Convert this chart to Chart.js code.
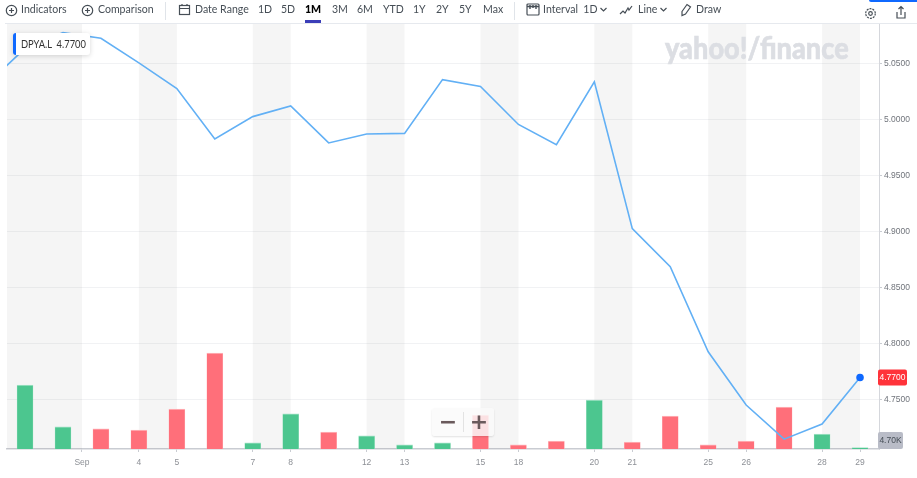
<!DOCTYPE html>
<html>
<head>
<meta charset="utf-8">
<title>DPYA.L</title>
<script src="https://cdn.jsdelivr.net/npm/chart.js@4/dist/chart.umd.min.js"></script>
<style>
html, body { margin: 0; padding: 0; background: #fff; overflow: hidden; }
#wrap { position: relative; width: 917px; height: 478px; filter: blur(0.4px); font-family: Lato, "Noto Sans", sans-serif; color: #464e56; }
canvas { position: absolute; left: 0; top: 0; }
.t { position: absolute; top: 1px; font-size: 12px; line-height: 16px; white-space: nowrap; transform: scaleX(0.88); transform-origin: left center; }
.t.on { font-weight: 900; color: #000; }
.sep { position: absolute; top: 2px; width: 1px; height: 18px; background: #e0e4e9; }
svg.i { position: absolute; fill: none; stroke: #464e56; stroke-width: 1.2; }
#topline { position: absolute; left: 5px; right: 0; top: 23px; height: 1px; background: #e6e9ee; }
#under { position: absolute; left: 305px; top: 20px; width: 16px; height: 3px; background: #3b3eb8; }
#bluecap { position: absolute; left: 869px; top: 0; width: 48px; height: 2px; background: #0f69ff; border-radius: 0 0 0 4px; }
#logo { position: absolute; left: 665px; top: 27px; font-size: 30px; line-height: 40px; font-weight: 900; color: #dcdee3; -webkit-text-stroke: 0.6px #dcdee3; white-space: nowrap; transform: scaleX(0.905); transform-origin: left center; }
#tip { position: absolute; left: 13px; top: 33px; width: 77px; height: 22px; background: #fff; border-left: 3px solid #0f69ff; border-radius: 3px; box-shadow: 0 1px 5px rgba(0,0,0,.16); box-sizing: border-box; padding-left: 5px; font-size: 10.5px; line-height: 22px; white-space: pre; color: #333; }
#tip span { display: inline-block; transform: scaleX(0.89); transform-origin: left center; }
#zoom { position: absolute; left: 432px; top: 408px; width: 62px; height: 28px; background: rgba(250,250,250,.82); border-radius: 3px; box-shadow: 0 1px 2px rgba(0,0,0,.12); }
#zoom b { position: absolute; top: 0; width: 30px; text-align: center; font: bold 22px/27px "DejaVu Sans", sans-serif; color: #6a5a5c; }
#zoom i { position: absolute; left: 31px; top: 4px; width: 1px; height: 20px; background: #e3e3e3; }
</style>
</head>
<body>
<div id="wrap">
<canvas id="chart" width="917" height="478"></canvas>

<div id="logo">yahoo!/finance</div>
<div id="tip"><span>DPYA.L  4.7700</span></div>
<div id="zoom"><b style="left:1px">&minus;</b><i></i><b style="left:32px">+</b></div>

<div id="bluecap"></div>
<div id="topline"></div>
<div id="under"></div>
<svg class="i" style="left:5px;top:4px" width="13" height="13"><circle cx="6.5" cy="6.5" r="5.2"/><path d="M6.5 4v5M4 6.5h5"/></svg>
<span class="t" style="left:21px">Indicators</span>
<svg class="i" style="left:81px;top:4px" width="13" height="13"><circle cx="6.5" cy="6.5" r="5.2"/><path d="M6.5 4v5M4 6.5h5"/></svg>
<span class="t" style="left:98px">Comparison</span>
<div class="sep" style="left:165px"></div>
<svg class="i" style="left:178px;top:3px" width="13" height="13"><rect x="1.5" y="2.5" width="10" height="9"/><path d="M1.5 5.5h10M4 1v2M9 1v2"/></svg>
<span class="t" style="left:195px">Date Range</span>
<span class="t" style="left:258px">1D</span>
<span class="t" style="left:281px">5D</span>
<span class="t on" style="left:305px">1M</span>
<span class="t" style="left:332px">3M</span>
<span class="t" style="left:357px">6M</span>
<span class="t" style="left:383px">YTD</span>
<span class="t" style="left:413px">1Y</span>
<span class="t" style="left:436px">2Y</span>
<span class="t" style="left:459px">5Y</span>
<span class="t" style="left:483px">Max</span>
<div class="sep" style="left:514px"></div>
<svg class="i" style="left:526px;top:2px" width="14" height="15"><rect x="1" y="2" width="12" height="11" rx="1"/><path d="M1 4.5h12M4 3v4M7 3v3M10 3v4" stroke-width="1.4"/></svg>
<span class="t" style="left:543px">Interval&nbsp; 1D</span>
<svg class="i" style="left:599px;top:6px" width="9" height="7"><path d="M1.5 2l3 3 3-3"/></svg>
<svg class="i" style="left:619px;top:4px" width="14" height="12"><path d="M1 10l3-3 2 2 3-5 1 2 3-4"/></svg>
<span class="t" style="left:638px">Line</span>
<svg class="i" style="left:659px;top:6px" width="9" height="7"><path d="M1.5 2l3 3 3-3"/></svg>
<svg class="i" style="left:680px;top:3px" width="13" height="14"><path d="M2 8.5l5-7 3.5 2.5-5 7-3.5 1.5z"/></svg>
<span class="t" style="left:696px">Draw</span>
<svg class="i" style="left:864px;top:7px" width="13" height="13"><circle cx="6.5" cy="6.5" r="1.8"/><circle cx="6.5" cy="6.5" r="4.8" stroke-dasharray="2 1"/></svg>
<svg class="i" style="left:895px;top:5px" width="12" height="15"><path d="M2 7v6h8V7M6 10V1.5M3.5 4L6 1.5 8.5 4"/></svg>
</div>

<script>
// slot -1 sits just off the left edge
var priceSlots = [-1,0,1,2,3,4,5,6,7,8,9,10,11,12,13,14,15,16,17,18,19,20,21,22];
var prices = [5.032,5.064,5.078,5.073,5.051,5.028,4.983,5.003,5.0125,4.9795,4.9875,4.988,5.036,5.030,4.996,4.978,5.034,4.903,4.869,4.793,4.7455,4.715,4.7285,4.77];

var volumeSlots = [0,1,2,3,4,5,6,7,8,9,10,11,12,13,14,15,16,17,18,19,20,21,22];
var volumes = [200,69,63,59,125,300,19,110,53,41,13,19,106,13,25,153,22,103,13,25,131,47,4.7];
var volumeUp = [1,1,0,0,0,0,1,1,0,1,1,1,0,0,0,1,0,0,0,0,0,1,1];

var tickSlots = [1.5,3,4,6,7,9,10,12,13,15,16,18,19,21,22];
var tickLabels = ['Sep','4','5','7','8','12','13','15','18','20','21','25','26','28','29'];
var priceTicks = [4.75,4.8,4.85,4.9,4.95,5,5.05];
var weekendBands = [[-0.48,1.5],[3,4],[6,7],[9,10],[12,13],[15,16],[18,19],[21,22]];

var lastPrice = '4.7700';
var lastVolume = '4.70K';

function toPoints(xs, ys) {
    return xs.map(function(x, i) { return {x: x, y: ys[i]}; });
}

function tag(ctx, x, y, w, h, fill, text, color) {
    ctx.fillStyle = fill;
    ctx.beginPath();
    ctx.roundRect(x, y, w, h, 2);
    ctx.fill();
    ctx.fillStyle = color;
    ctx.font = '8.5px "Liberation Sans", sans-serif';
    ctx.textAlign = 'center';
    ctx.textBaseline = 'middle';
    ctx.fillText(text, x + w / 2, y + h / 2 + 0.5);
}

//gray bands behind everything
var bandsPlugin = {
    id: 'bands',
    beforeDatasetsDraw: function(chart) {
        var a = chart.chartArea, sx = chart.scales.x, ctx = chart.ctx;
        ctx.save();
        ctx.fillStyle = 'rgba(120,120,120,0.075)';
        weekendBands.forEach(function(b) {
            var x0 = Math.max(sx.getPixelForValue(b[0]), a.left);
            var x1 = sx.getPixelForValue(b[1]);
            ctx.fillRect(x0, a.top, x1 - x0, a.bottom - a.top);
        });
        ctx.restore();
    }
};

//price and volume tags on the right axis
var tagsPlugin = {
    id: 'tags',
    afterDraw: function(chart) {
        var a = chart.chartArea, ctx = chart.ctx;
        var py = chart.scales.y.getPixelForValue(prices[prices.length - 1]);
        ctx.save();
        tag(ctx, a.right - 1, py - 8, 29, 16, '#ff333a', lastPrice, '#fff');
        tag(ctx, a.right - 1, a.bottom - 17, 25, 17, '#b9bcc7', lastVolume, '#464e56');
        ctx.restore();
    }
};

const config = {
    type: 'bar',
    data: {
        datasets: [{
            type: 'line',
            data: toPoints(priceSlots, prices),
            yAxisID: 'y',
            borderColor: '#62b0f5',
            borderWidth: 1.6,
            tension: 0,
            pointRadius: function(c) { return c.dataIndex === prices.length - 1 ? 3 : 0; },
            pointBackgroundColor: '#0f69ff',
            pointBorderColor: '#0f69ff'
        }, {
            type: 'bar',
            data: toPoints(volumeSlots, volumes),
            yAxisID: 'v',
            barThickness: 16,
            backgroundColor: volumeUp.map(function(u) { return u ? '#4cc68f' : '#ff6f7a'; }),
            borderColor: volumeUp.map(function(u) { return u ? '#a5e3c7' : '#ffb7bc'; }),
            borderWidth: {top: 1, left: 0.5, right: 0.5, bottom: 0}
        }]
    },
    options: {
        responsive: false,
        animation: false,
        layout: {padding: {left: 7, top: 24, right: 0, bottom: 0}},
        plugins: {legend: {display: false}, tooltip: {enabled: false}},
        scales: {
            x: {
                type: 'linear',
                offset: false,
                min: -0.475,
                max: 22.5,
                afterBuildTicks: function(s) { s.ticks = tickSlots.map(function(v) { return {value: v}; }); },
                afterFit: function(s) { s.height = 29; },
                grid: {offset: false, drawOnChartArea: false, color: '#c9ccd2', tickLength: 3},
                border: {color: '#c9ccd2', width: 1.5},
                ticks: {
                    autoSkip: false,
                    maxRotation: 0,
                    padding: 6,
                    color: '#8d9096',
                    font: {size: 8.5, family: '"Liberation Sans", sans-serif'},
                    callback: function(v) { return tickLabels[tickSlots.indexOf(v)]; }
                }
            },
            y: {
                position: 'right',
                min: 4.7062,
                max: 5.0857,
                afterBuildTicks: function(s) { s.ticks = priceTicks.map(function(v) { return {value: v}; }); },
                afterFit: function(s) { s.width = 38; },
                grid: {color: '#f1f2f4', tickLength: 3, tickColor: '#c9ccd2'},
                border: {color: '#d5d7dc'},
                ticks: {
                    padding: 2,
                    color: '#70747b',
                    font: {size: 8.5, family: '"Liberation Sans", sans-serif'},
                    callback: function(v) { return v.toFixed(4); }
                }
            },
            v: {display: false, min: 0, max: 1328}
        }
    },
    plugins: [bandsPlugin, tagsPlugin]
};

const myChart = new Chart(document.getElementById('chart'), config);
</script>
</body>
</html>
